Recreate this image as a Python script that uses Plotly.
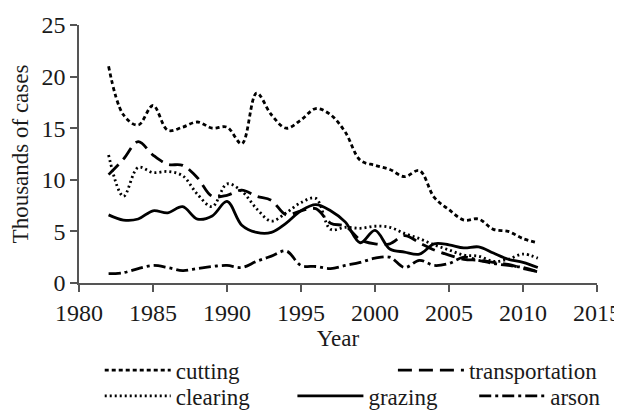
import plotly.graph_objects as go

years = list(range(1982, 2012))

cutting = [21.0, 16.3, 15.3, 17.2, 14.8, 15.1, 15.6, 15.0, 15.1, 13.5,
           18.4, 16.3, 15.0, 15.8, 16.9, 16.3, 14.6, 11.9, 11.4, 11.0,
           10.3, 10.9, 8.3, 7.1, 6.1, 6.2, 5.2, 5.0, 4.3, 3.9]
transportation = [10.5, 12.0, 13.7, 12.4, 11.5, 11.4, 10.2, 8.4, 8.5, 9.0,
                  8.4, 8.0, 6.6, 7.0, 7.2, 5.8, 5.5, 4.2, 3.8, 3.8,
                  4.6, 3.9, 3.2, 2.7, 2.3, 2.2, 2.0, 1.8, 1.4, 1.1]
clearing = [12.4, 8.4, 11.2, 10.7, 10.8, 10.4, 8.6, 7.4, 9.6, 8.9,
            7.2, 6.0, 6.8, 7.8, 8.2, 5.2, 5.4, 5.3, 5.5, 5.4,
            4.8, 4.3, 3.7, 3.2, 2.7, 2.6, 2.1, 2.3, 2.8, 2.4]
grazing = [6.6, 6.1, 6.2, 7.0, 6.8, 7.4, 6.2, 6.5, 7.9, 5.6,
           4.9, 4.9, 5.8, 7.0, 7.6, 7.0, 5.9, 3.9, 5.1, 3.3,
           3.0, 2.8, 3.8, 3.7, 3.4, 3.5, 2.9, 2.3, 2.0, 1.5]
arson = [0.9, 1.0, 1.4, 1.7, 1.5, 1.2, 1.4, 1.6, 1.7, 1.5,
         2.1, 2.6, 3.1, 1.7, 1.6, 1.4, 1.7, 2.0, 2.4, 2.5,
         1.5, 2.2, 1.7, 1.9, 2.5, 2.2, 1.9, 1.7, 1.5, 1.1]

# name, values, dash pattern, legend id, legend x, legend y
series = [
    ('cutting', cutting, '4px,3px', 'legend', 0.040, -0.338),
    ('transportation', transportation, '14px,7px', 'legend2', 0.606, -0.338),
    ('clearing', clearing, '2px,3px', 'legend3', 0.040, -0.438),
    ('grazing', grazing, 'solid', 'legend4', 0.412, -0.438),
    ('arson', arson, '12px,4px,3px,4px', 'legend5', 0.763, -0.438),
]

SERIF = 'Liberation Serif'
INK = '#1a1a1a'
font = dict(family=SERIF, size=23, color=INK)

fig = go.Figure()
legends = {}
for name, values, dash, leg, lx, ly in series:
    fig.add_trace(go.Scatter(
        x=years, y=values, name=name, mode='lines',
        line=dict(color='black', width=2.8, dash=dash,
                  shape='spline', smoothing=1),
        legend=leg,
    ))
    legends[leg] = dict(x=lx, y=ly, xanchor='left', yanchor='middle',
                        itemwidth=66, font=font,
                        bgcolor='rgba(0,0,0,0)')

# page body adds an 8px margin, so the figure is drawn 8px smaller
fig.update_layout(
    width=614, height=408,
    margin=dict(l=71, r=25, t=17, b=133, autoexpand=False),
    plot_bgcolor='white', paper_bgcolor='white',
    font=font,
    showlegend=True,
    **legends,
)

fig.update_xaxes(
    range=[1980, 2015], dtick=5, tick0=1980,
    showgrid=False, zeroline=False,
    showline=True, linecolor='#555', linewidth=1.5,
    ticks='outside', ticklen=7, tickcolor='#555', tickwidth=1.5,
    tickfont=dict(family=SERIF, size=24, color=INK),
    title=dict(text='Year', standoff=0,
               font=dict(family=SERIF, size=23, color=INK)),
)
fig.update_yaxes(
    range=[0, 25], dtick=5,
    showgrid=False, zeroline=False,
    showline=True, linecolor='#555', linewidth=1.5,
    ticks='outside', ticklen=7, tickcolor='#555', tickwidth=1.5,
    tickfont=dict(family=SERIF, size=24, color=INK),
    title=dict(text='Thousands of cases', standoff=8,
               font=dict(family=SERIF, size=23, color=INK)),
)

fig.write_html('out.html')
